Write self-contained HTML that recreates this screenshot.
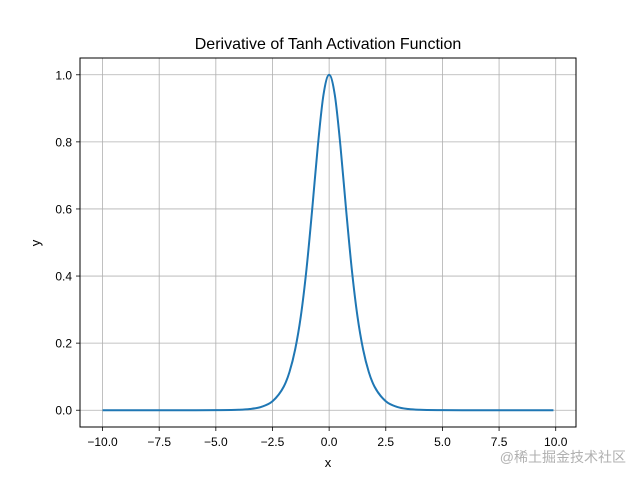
<!DOCTYPE html>
<html><head><meta charset="utf-8">
<style>
html,body{margin:0;padding:0;background:#fff;}
svg{display:block;font-family:"Liberation Sans","DejaVu Sans",sans-serif;}
</style></head>
<body>
<svg id="chart" width="640" height="480" viewBox="0 0 640 480">
  <rect width="640" height="480" fill="#fff"/>
  <text x="328" y="49" text-anchor="middle" font-size="16">Derivative of Tanh Activation Function</text>
  <g id="grid"></g>
  <g id="ticks"></g>
  <path id="curve" fill="none" stroke="#1f77b4" stroke-width="2"/>
  <rect x="80" y="58" width="496" height="369" fill="none" stroke="#000" stroke-width="1"/>
  <text x="328" y="467" text-anchor="middle" font-size="13">x</text>
  <text x="40" y="243" text-anchor="middle" font-size="13" transform="rotate(-90 40 243)">y</text>
  <text x="626" y="462" text-anchor="end" font-size="14" fill="#b0b0b0" font-family="'Liberation Sans','Noto Sans CJK SC',sans-serif">@稀土掘金技术社区</text>
</svg>
<script>
const xTicks = [-10, -7.5, -5, -2.5, 0, 2.5, 5, 7.5, 10];
const xTickLabels = ["−10.0","−7.5","−5.0","−2.5","0.0","2.5","5.0","7.5","10.0"];
const yTicks = [0, 0.2, 0.4, 0.6, 0.8, 1.0];
const yTickLabels = ["0.0","0.2","0.4","0.6","0.8","1.0"];
const xs = [-10,-8,-6,-5,-4,-3.5,-3,-2.5,-2,-1.75,-1.5,-1.25,-1,-0.75,-0.5,-0.25,0,0.25,0.5,0.75,1,1.25,1.5,1.75,2,2.5,3,3.5,4,5,6,8,9.9];
const ys = [0,0,0,0.0002,0.0013,0.0036,0.0099,0.0266,0.0707,0.114,0.181,0.280,0.420,0.597,0.787,0.940,1.0,0.940,0.787,0.597,0.420,0.280,0.181,0.114,0.0707,0.0266,0.0099,0.0036,0.0013,0.0002,0,0,0];

const X0=80,X1=576,Y0=58,Y1=427;
const xmin=-10.995,xmax=10.895,ymin=-0.05,ymax=1.05;
function sx(v){return X0+(v-xmin)/(xmax-xmin)*(X1-X0);}
function sy(v){return Y1-(v-ymin)/(ymax-ymin)*(Y1-Y0);}
const NS="http://www.w3.org/2000/svg";
const grid=document.getElementById('grid'), ticks=document.getElementById('ticks');
function mk(tag,attrs,parent){const e=document.createElementNS(NS,tag);for(const k in attrs)e.setAttribute(k,attrs[k]);parent.appendChild(e);return e;}
xTicks.forEach((v,i)=>{
  const p=sx(v);
  const g=mk('line',{x1:p,x2:p,y1:Y0,y2:Y1,stroke:'#b0b0b0','stroke-width':0.8},grid);
  
  
  const t=mk('line',{x1:p,x2:p,y1:Y1,y2:Y1+4,stroke:'#000','stroke-width':0.8},ticks);
  
  
  const l=mk('text',{x:p,y:Y1+19,'text-anchor':'middle','font-size':12},ticks);
  l.textContent=xTickLabels[i];
  
  
});
yTicks.forEach((v,i)=>{
  const p=sy(v);
  const g=mk('line',{x1:X0,x2:X1,y1:p,y2:p,stroke:'#b0b0b0','stroke-width':0.8},grid);
  
  
  const t=mk('line',{x1:X0-4,x2:X0,y1:p,y2:p,stroke:'#000','stroke-width':0.8},ticks);
  
  
  const l=mk('text',{x:X0-8,y:p+4.5,'text-anchor':'end','font-size':12},ticks);
  l.textContent=yTickLabels[i];
  
  
});
// smooth curve through data points (monotone cubic)
const P=xs.map((x,i)=>[sx(x),sy(ys[i])]);
const n=P.length, m=[];
const d=[];for(let i=0;i<n-1;i++)d.push((P[i+1][1]-P[i][1])/(P[i+1][0]-P[i][0]));
for(let i=0;i<n;i++){
  if(i===0)m.push(d[0]);else if(i===n-1)m.push(d[n-2]);
  else m.push(d[i-1]*d[i]<=0?0:(d[i-1]+d[i])/2);
}
let path=`M${P[0][0]},${P[0][1]}`;
for(let i=0;i<n-1;i++){
  const h=P[i+1][0]-P[i][0];
  path+=` C${P[i][0]+h/3},${P[i][1]+m[i]*h/3} ${P[i+1][0]-h/3},${P[i+1][1]-m[i+1]*h/3} ${P[i+1][0]},${P[i+1][1]}`;
}
document.getElementById('curve').setAttribute('d',path);
</script>
</body></html>
